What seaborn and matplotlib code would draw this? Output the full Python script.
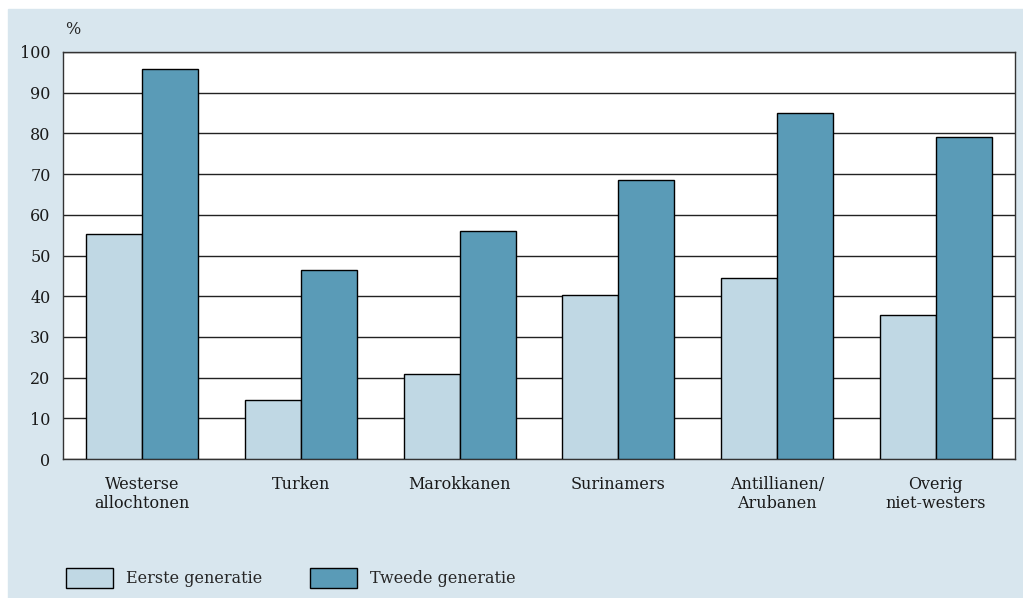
import pandas as pd
import matplotlib.pyplot as plt
import matplotlib.patches as mpatches
import seaborn as sns

groepen = ["Westerse\nallochtonen", "Turken", "Marokkanen", "Surinamers",
           "Antillianen/\nArubanen", "Overig\nniet-westers"]
eerste = [55.4, 14.5, 20.8, 40.2, 44.5, 35.5]
tweede = [95.9, 46.5, 56.0, 68.5, 85.0, 79.0]
reeksen = ["Eerste generatie", "Tweede generatie"]
kleuren = ["#c0d8e4", "#5a9bb7"]

data = pd.DataFrame({
    "groep": groepen * 2,
    "generatie": [reeksen[0]] * 6 + [reeksen[1]] * 6,
    "pct": eerste + tweede,
})

sns.set_style("white")
plt.rcParams["font.family"] = ["DejaVu Serif"]

fig = plt.figure(figsize=(10.23, 5.98), dpi=100)
# light blue panel behind the chart
fig.patches.append(mpatches.Rectangle((8 / 1023, 0), 1, 1 - 9 / 598,
                                      transform=fig.transFigure,
                                      color="#d8e6ee", zorder=-10))
ax = fig.add_axes([63 / 1023, 1 - 459 / 598, (1015 - 63) / 1023, 407 / 598])

sns.barplot(data=data, x="groep", y="pct", hue="generatie", palette=kleuren,
            width=0.705, saturation=1, edgecolor="black", linewidth=1, ax=ax,
            legend=False, zorder=3)

ax.set_facecolor("white")
ax.set_xlim(-0.5, 5.5)
ax.set_ylim(0, 100)
ax.set_yticks(range(0, 101, 10))
ax.yaxis.grid(True, color="#222222", linewidth=1, zorder=0)
ax.set_axisbelow(True)
ax.set_xlabel("")
ax.set_ylabel("")
ax.tick_params(axis="both", length=0, labelsize=11.5, colors="#1a1a1a")
ax.tick_params(axis="y", pad=9)
ax.tick_params(axis="x", pad=12)
for s in ax.spines.values():
    s.set_color("#333333")
    s.set_linewidth(1)
ax.text(65 / 1023, 1 - 30 / 598, "%", transform=fig.transFigure,
        fontsize=11.5, va="center", ha="left")

handles = [mpatches.Patch(facecolor=c, edgecolor="black", linewidth=1, label=r)
           for c, r in zip(kleuren, reeksen)]
fig.legend(handles=handles, loc="center left", ncol=2, frameon=False,
           bbox_to_anchor=(52 / 1023, 1 - 578 / 598), fontsize=11.5,
           handlelength=2.9, handleheight=1.55, handletextpad=0.85,
           columnspacing=3.0)

plt.savefig("out.png", dpi=100)
